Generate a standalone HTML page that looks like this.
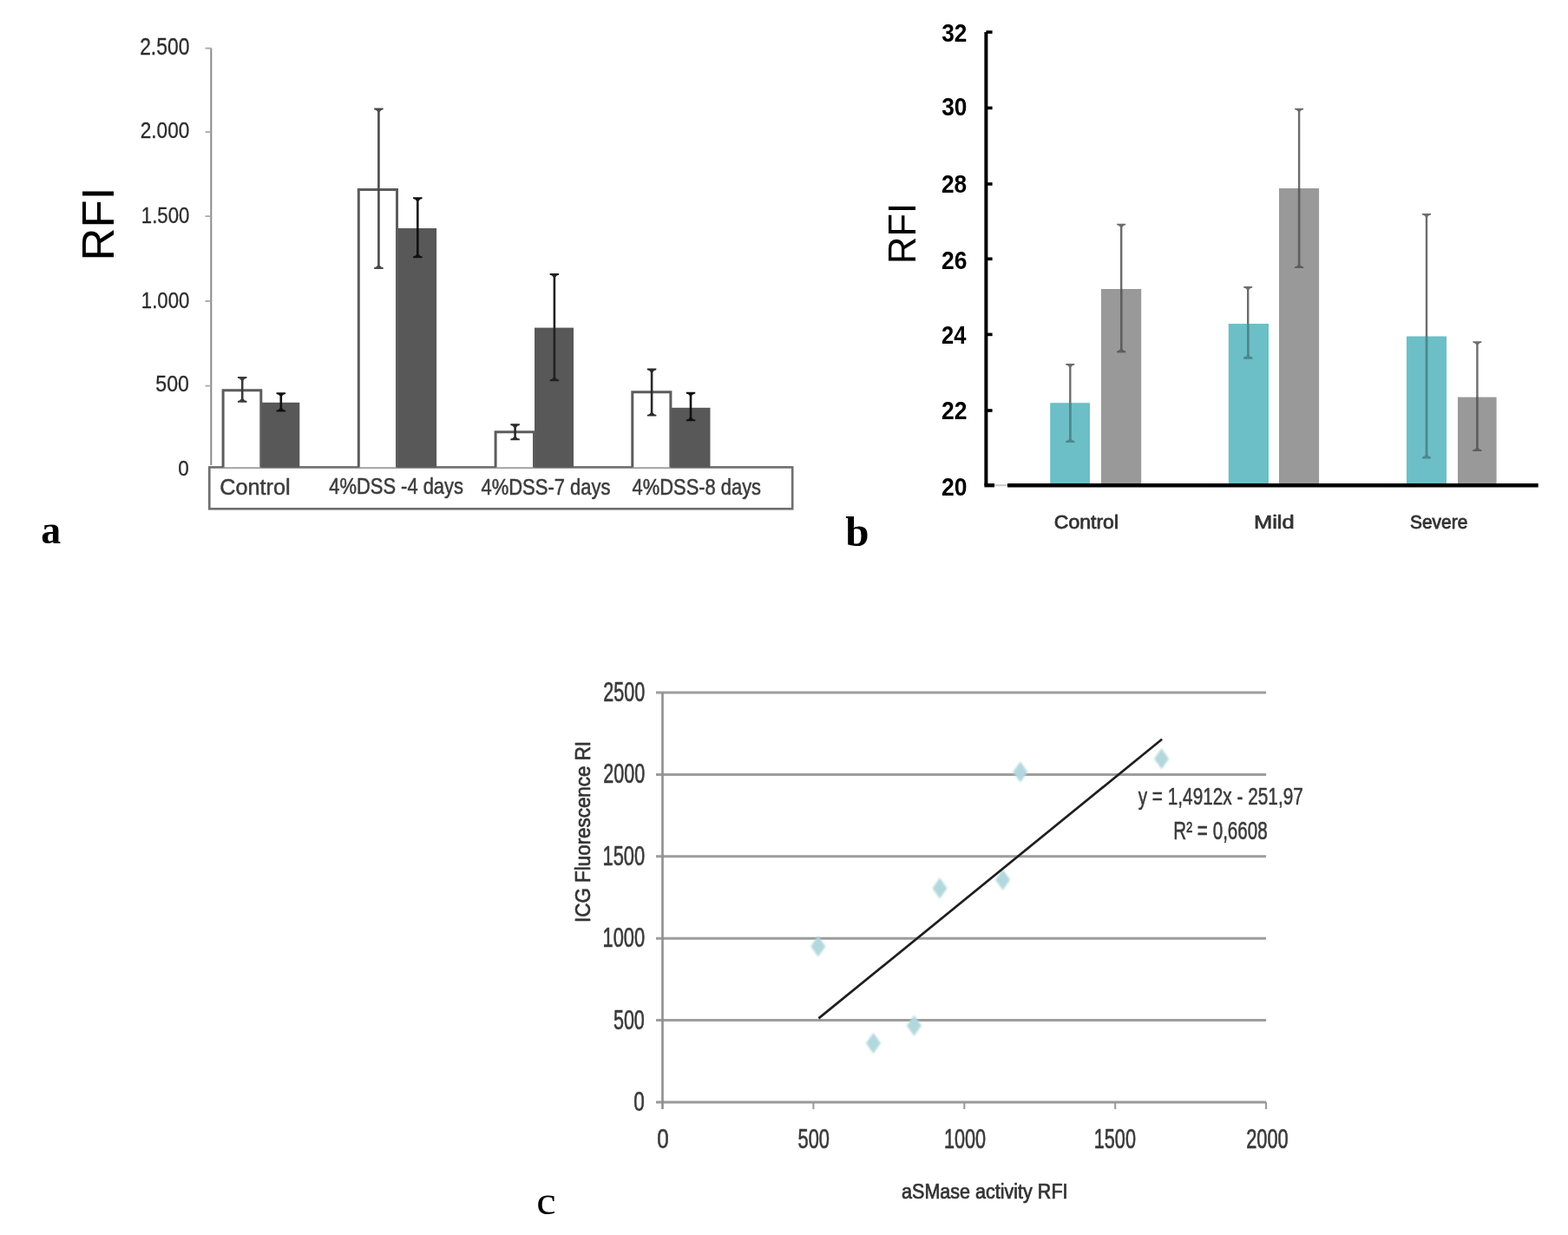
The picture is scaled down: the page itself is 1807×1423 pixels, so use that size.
<!DOCTYPE html>
<html><head><meta charset="utf-8"><title>Figure</title>
<style>html,body{margin:0;padding:0;background:#fff;}svg{display:block;}</style>
</head><body>
<svg width="1807" height="1423" viewBox="0 0 1807 1423">
<rect x="0" y="0" width="1807" height="1423" fill="#fff"/>
<line x1='243.3' y1='55.6' x2='243.3' y2='536' stroke='#8a8a8a' stroke-width='2' />
<line x1='236.5' y1='55.6' x2='243.3' y2='55.6' stroke='#a8a8a8' stroke-width='1.8' />
<line x1='236.5' y1='152.2' x2='243.3' y2='152.2' stroke='#a8a8a8' stroke-width='1.8' />
<line x1='236.5' y1='249.2' x2='243.3' y2='249.2' stroke='#a8a8a8' stroke-width='1.8' />
<line x1='236.5' y1='347.0' x2='243.3' y2='347.0' stroke='#a8a8a8' stroke-width='1.8' />
<line x1='236.5' y1='444.6' x2='243.3' y2='444.6' stroke='#a8a8a8' stroke-width='1.8' />
<rect x='241.3' y='538.4' width='671.9000000000001' height='47.89999999999998' fill='#fff' stroke='#6e6e6e' stroke-width='2.6'/>
<rect x='301.30' y='463.80' width='44.00' height='74.60' fill='#585858' />
<path d='M257.1 538.4 V449.8 H300.8 V538.4' fill='#fff' stroke='#5c5c5c' stroke-width='3'/>
<rect x='458.00' y='263.00' width='45.10' height='275.40' fill='#585858' />
<path d='M413.3 538.4 V218.4 H457.5 V538.4' fill='#fff' stroke='#5c5c5c' stroke-width='3'/>
<rect x='616.00' y='377.60' width='45.00' height='160.80' fill='#585858' />
<path d='M571.1 538.4 V497.8 H615.5 V538.4' fill='#fff' stroke='#5c5c5c' stroke-width='3'/>
<rect x='773.40' y='469.80' width='45.10' height='68.60' fill='#585858' />
<path d='M728.8 538.4 V451.8 H772.9 V538.4' fill='#fff' stroke='#5c5c5c' stroke-width='3'/>
<line x1='279.2' y1='435.4' x2='279.2' y2='462.4' stroke='#3a3a3a' stroke-width='2.6' />
<path d='M273.95 434.10 H284.45 V435.79 Q281.56 436.18 280.50 438.26 H277.90 Q276.84 436.18 273.95 435.79 Z' fill='#3a3a3a'/>
<path d='M273.95 463.70 H284.45 V462.01 Q281.56 461.62 280.50 459.54 H277.90 Q276.84 461.62 273.95 462.01 Z' fill='#3a3a3a'/>
<line x1='323.8' y1='453.5' x2='323.8' y2='473.1' stroke='#111' stroke-width='2.6' />
<path d='M318.55 452.20 H329.05 V453.89 Q326.16 454.28 325.10 456.36 H322.50 Q321.44 454.28 318.55 453.89 Z' fill='#111'/>
<path d='M318.55 474.40 H329.05 V472.71 Q326.16 472.32 325.10 470.24 H322.50 Q321.44 472.32 318.55 472.71 Z' fill='#111'/>
<line x1='436.4' y1='125.8' x2='436.4' y2='308.6' stroke='#4a4a4a' stroke-width='2.6' />
<path d='M431.15 124.50 H441.65 V126.19 Q438.76 126.58 437.70 128.66 H435.10 Q434.04 126.58 431.15 126.19 Z' fill='#4a4a4a'/>
<path d='M431.15 309.90 H441.65 V308.21 Q438.76 307.82 437.70 305.74 H435.10 Q434.04 307.82 431.15 308.21 Z' fill='#4a4a4a'/>
<line x1='481.3' y1='228.6' x2='481.3' y2='295.9' stroke='#111' stroke-width='2.6' />
<path d='M476.05 227.30 H486.55 V228.99 Q483.66 229.38 482.60 231.46 H480.00 Q478.94 229.38 476.05 228.99 Z' fill='#111'/>
<path d='M476.05 297.20 H486.55 V295.51 Q483.66 295.12 482.60 293.04 H480.00 Q478.94 295.12 476.05 295.51 Z' fill='#111'/>
<line x1='593.6' y1='489.6' x2='593.6' y2='506.0' stroke='#2a2a2a' stroke-width='2.6' />
<path d='M588.35 488.30 H598.85 V489.99 Q595.96 490.38 594.90 492.46 H592.30 Q591.24 490.38 588.35 489.99 Z' fill='#2a2a2a'/>
<path d='M588.35 507.30 H598.85 V505.61 Q595.96 505.22 594.90 503.14 H592.30 Q591.24 505.22 588.35 505.61 Z' fill='#2a2a2a'/>
<line x1='638.9' y1='316.4' x2='638.9' y2='437.9' stroke='#222' stroke-width='2.6' />
<path d='M633.65 315.10 H644.15 V316.79 Q641.26 317.18 640.20 319.26 H637.60 Q636.54 317.18 633.65 316.79 Z' fill='#222'/>
<path d='M633.65 439.20 H644.15 V437.51 Q641.26 437.12 640.20 435.04 H637.60 Q636.54 437.12 633.65 437.51 Z' fill='#222'/>
<line x1='751.1' y1='425.8' x2='751.1' y2='478.3' stroke='#2a2a2a' stroke-width='2.6' />
<path d='M745.85 424.50 H756.35 V426.19 Q753.46 426.58 752.40 428.66 H749.80 Q748.74 426.58 745.85 426.19 Z' fill='#2a2a2a'/>
<path d='M745.85 479.60 H756.35 V477.91 Q753.46 477.52 752.40 475.44 H749.80 Q748.74 477.52 745.85 477.91 Z' fill='#2a2a2a'/>
<line x1='796.0' y1='453.0' x2='796.0' y2='484.0' stroke='#111' stroke-width='2.6' />
<path d='M790.75 451.70 H801.25 V453.39 Q798.36 453.78 797.30 455.86 H794.70 Q793.64 453.78 790.75 453.39 Z' fill='#111'/>
<path d='M790.75 485.30 H801.25 V483.61 Q798.36 483.22 797.30 481.14 H794.70 Q793.64 483.22 790.75 483.61 Z' fill='#111'/>
<rect x='1210.20' y='464.20' width='45.80' height='94.80' fill='#6cbfc6' />
<rect x='1269.00' y='333.00' width='46.20' height='226.00' fill='#999999' />
<rect x='1415.80' y='373.00' width='46.20' height='186.00' fill='#6cbfc6' />
<rect x='1474.00' y='217.00' width='46.10' height='342.00' fill='#999999' />
<rect x='1620.90' y='387.50' width='46.10' height='171.50' fill='#6cbfc6' />
<rect x='1680.00' y='457.60' width='44.60' height='101.40' fill='#999999' />
<line x1='1233.3' y1='420.2' x2='1233.3' y2='508.6' stroke='#6c6c6c' stroke-width='2.4' />
<path d='M1228.30 419.00 H1238.30 V420.56 Q1235.55 420.92 1234.50 422.84 H1232.10 Q1231.05 420.92 1228.30 420.56 Z' fill='#6c6c6c'/>
<path d='M1228.30 509.80 H1238.30 V508.24 Q1235.55 507.88 1234.50 505.96 H1232.10 Q1231.05 507.88 1228.30 508.24 Z' fill='#6c6c6c'/>
<line x1='1233.3' y1='464.2' x2='1233.3' y2='508.6' stroke='#4a8a8e' stroke-width='2.4' />
<path d='M1228.30 509.80 H1238.30 V508.24 Q1235.55 507.88 1234.50 505.96 H1232.10 Q1231.05 507.88 1228.30 508.24 Z' fill='#4a8a8e'/>
<line x1='1292.2' y1='259.0' x2='1292.2' y2='405.0' stroke='#6c6c6c' stroke-width='2.4' />
<path d='M1287.20 257.80 H1297.20 V259.36 Q1294.45 259.72 1293.40 261.64 H1291.00 Q1289.95 259.72 1287.20 259.36 Z' fill='#6c6c6c'/>
<path d='M1287.20 406.20 H1297.20 V404.64 Q1294.45 404.28 1293.40 402.36 H1291.00 Q1289.95 404.28 1287.20 404.64 Z' fill='#6c6c6c'/>
<line x1='1292.2' y1='333.0' x2='1292.2' y2='405.0' stroke='#5e5e5e' stroke-width='2.4' />
<path d='M1287.20 406.20 H1297.20 V404.64 Q1294.45 404.28 1293.40 402.36 H1291.00 Q1289.95 404.28 1287.20 404.64 Z' fill='#5e5e5e'/>
<line x1='1438.2' y1='331.2' x2='1438.2' y2='412.2' stroke='#6c6c6c' stroke-width='2.4' />
<path d='M1433.20 330.00 H1443.20 V331.56 Q1440.45 331.92 1439.40 333.84 H1437.00 Q1435.95 331.92 1433.20 331.56 Z' fill='#6c6c6c'/>
<path d='M1433.20 413.40 H1443.20 V411.84 Q1440.45 411.48 1439.40 409.56 H1437.00 Q1435.95 411.48 1433.20 411.84 Z' fill='#6c6c6c'/>
<line x1='1438.2' y1='373.0' x2='1438.2' y2='412.2' stroke='#4a8a8e' stroke-width='2.4' />
<path d='M1433.20 413.40 H1443.20 V411.84 Q1440.45 411.48 1439.40 409.56 H1437.00 Q1435.95 411.48 1433.20 411.84 Z' fill='#4a8a8e'/>
<line x1='1497.1' y1='125.9' x2='1497.1' y2='307.8' stroke='#6c6c6c' stroke-width='2.4' />
<path d='M1492.10 124.70 H1502.10 V126.26 Q1499.35 126.62 1498.30 128.54 H1495.90 Q1494.85 126.62 1492.10 126.26 Z' fill='#6c6c6c'/>
<path d='M1492.10 309.00 H1502.10 V307.44 Q1499.35 307.08 1498.30 305.16 H1495.90 Q1494.85 307.08 1492.10 307.44 Z' fill='#6c6c6c'/>
<line x1='1497.1' y1='217.0' x2='1497.1' y2='307.8' stroke='#5e5e5e' stroke-width='2.4' />
<path d='M1492.10 309.00 H1502.10 V307.44 Q1499.35 307.08 1498.30 305.16 H1495.90 Q1494.85 307.08 1492.10 307.44 Z' fill='#5e5e5e'/>
<line x1='1644.0' y1='247.1' x2='1644.0' y2='527.1' stroke='#6c6c6c' stroke-width='2.4' />
<path d='M1639.00 245.90 H1649.00 V247.46 Q1646.25 247.82 1645.20 249.74 H1642.80 Q1641.75 247.82 1639.00 247.46 Z' fill='#6c6c6c'/>
<path d='M1639.00 528.30 H1649.00 V526.74 Q1646.25 526.38 1645.20 524.46 H1642.80 Q1641.75 526.38 1639.00 526.74 Z' fill='#6c6c6c'/>
<line x1='1644.0' y1='387.5' x2='1644.0' y2='527.1' stroke='#4a8a8e' stroke-width='2.4' />
<path d='M1639.00 528.30 H1649.00 V526.74 Q1646.25 526.38 1645.20 524.46 H1642.80 Q1641.75 526.38 1639.00 526.74 Z' fill='#4a8a8e'/>
<line x1='1702.4' y1='394.4' x2='1702.4' y2='518.9' stroke='#6c6c6c' stroke-width='2.4' />
<path d='M1697.40 393.20 H1707.40 V394.76 Q1704.65 395.12 1703.60 397.04 H1701.20 Q1700.15 395.12 1697.40 394.76 Z' fill='#6c6c6c'/>
<path d='M1697.40 520.10 H1707.40 V518.54 Q1704.65 518.18 1703.60 516.26 H1701.20 Q1700.15 518.18 1697.40 518.54 Z' fill='#6c6c6c'/>
<line x1='1702.4' y1='457.6' x2='1702.4' y2='518.9' stroke='#5e5e5e' stroke-width='2.4' />
<path d='M1697.40 520.10 H1707.40 V518.54 Q1704.65 518.18 1703.60 516.26 H1701.20 Q1700.15 518.18 1697.40 518.54 Z' fill='#5e5e5e'/>
<line x1='1136.4' y1='37' x2='1136.4' y2='559.2' stroke='#000' stroke-width='4' />
<line x1='1136.4' y1='37.0' x2='1143.6' y2='37.0' stroke='#000' stroke-width='3.6' />
<line x1='1136.4' y1='124.4' x2='1143.6' y2='124.4' stroke='#000' stroke-width='3.6' />
<line x1='1136.4' y1='212.0' x2='1143.6' y2='212.0' stroke='#000' stroke-width='3.6' />
<line x1='1136.4' y1='298.3' x2='1143.6' y2='298.3' stroke='#000' stroke-width='3.6' />
<line x1='1136.4' y1='385.4' x2='1143.6' y2='385.4' stroke='#000' stroke-width='3.6' />
<line x1='1136.4' y1='473.0' x2='1143.6' y2='473.0' stroke='#000' stroke-width='3.6' />
<line x1='1146' y1='559.2' x2='1161' y2='559.2' stroke='#c8c8c8' stroke-width='2' />
<line x1='1134.4' y1='559.2' x2='1146' y2='559.2' stroke='#000' stroke-width='4.4' />
<line x1='1161' y1='559.2' x2='1772.7' y2='559.2' stroke='#000' stroke-width='4.6' />
<line x1='756.0' y1='1175.6' x2='1459.1' y2='1175.6' stroke='#9d9d9d' stroke-width='3' />
<line x1='756.0' y1='1081.2' x2='1459.1' y2='1081.2' stroke='#9d9d9d' stroke-width='3' />
<line x1='756.0' y1='986.8' x2='1459.1' y2='986.8' stroke='#9d9d9d' stroke-width='3' />
<line x1='756.0' y1='892.4000000000001' x2='1459.1' y2='892.4000000000001' stroke='#9d9d9d' stroke-width='3' />
<line x1='756.0' y1='798.0' x2='1459.1' y2='798.0' stroke='#9d9d9d' stroke-width='3' />
<line x1='756.0' y1='1270.0' x2='1459.1' y2='1270.0' stroke='#999' stroke-width='3' />
<line x1='763.5' y1='798.0' x2='763.5' y2='1278.0' stroke='#8f8f8f' stroke-width='2.6' />
<line x1='937.4' y1='1270' x2='937.4' y2='1278' stroke='#999' stroke-width='2' />
<line x1='1111.3' y1='1270' x2='1111.3' y2='1278' stroke='#999' stroke-width='2' />
<line x1='1285.2' y1='1270' x2='1285.2' y2='1278' stroke='#999' stroke-width='2' />
<line x1='1459.1' y1='1270' x2='1459.1' y2='1278' stroke='#999' stroke-width='2' />
<defs><filter id='sb' x='-50%' y='-50%' width='200%' height='200%'><feGaussianBlur stdDeviation='1.3'/></filter></defs>
<g filter='url(#sb)'>
<path d='M942.8 1078.6 L951.3 1090.6 L942.8 1102.6 L934.3 1090.6 Z' fill='#b2d8dd'/>
<path d='M1006.5 1190.0 L1015.0 1202.0 L1006.5 1214.0 L998.0 1202.0 Z' fill='#b2d8dd'/>
<path d='M1053.4 1169.7 L1061.9 1181.7 L1053.4 1193.7 L1044.9 1181.7 Z' fill='#b2d8dd'/>
<path d='M1083.0 1011.5 L1091.5 1023.5 L1083.0 1035.5 L1074.5 1023.5 Z' fill='#b2d8dd'/>
<path d='M1155.6 1001.7 L1164.1 1013.7 L1155.6 1025.7 L1147.1 1013.7 Z' fill='#b2d8dd'/>
<path d='M1175.8 877.4 L1184.3 889.4 L1175.8 901.4 L1167.3 889.4 Z' fill='#b2d8dd'/>
<path d='M1338.6 862.2 L1347.1 874.2 L1338.6 886.2 L1330.1 874.2 Z' fill='#b2d8dd'/>
</g>
<line x1='943.4' y1='1173.4' x2='1339.1' y2='851.8' stroke='#1e1e1e' stroke-width='2.7' />
<text transform='translate(161.16 63.20) scale(0.8468 1)' font-family='Liberation Sans, Arial, sans-serif' font-weight='normal' font-size='27.00' fill='#2c2c2c'  stroke='#2c2c2c' stroke-width='0.3' stroke-linejoin='round' vector-effect='non-scaling-stroke'>2.500</text>
<text transform='translate(161.67 159.30) scale(0.8714 1)' font-family='Liberation Sans, Arial, sans-serif' font-weight='normal' font-size='26.00' fill='#2c2c2c'  stroke='#2c2c2c' stroke-width='0.3' stroke-linejoin='round' vector-effect='non-scaling-stroke'>2.000</text>
<text transform='translate(162.83 256.50) scale(0.8486 1)' font-family='Liberation Sans, Arial, sans-serif' font-weight='normal' font-size='26.14' fill='#2c2c2c'  stroke='#2c2c2c' stroke-width='0.3' stroke-linejoin='round' vector-effect='non-scaling-stroke'>1.500</text>
<text transform='translate(162.83 354.70) scale(0.8486 1)' font-family='Liberation Sans, Arial, sans-serif' font-weight='normal' font-size='26.14' fill='#2c2c2c'  stroke='#2c2c2c' stroke-width='0.3' stroke-linejoin='round' vector-effect='non-scaling-stroke'>1.000</text>
<text transform='translate(179.27 451.00) scale(0.8902 1)' font-family='Liberation Sans, Arial, sans-serif' font-weight='normal' font-size='26.00' fill='#2c2c2c'  stroke='#2c2c2c' stroke-width='0.3' stroke-linejoin='round' vector-effect='non-scaling-stroke'>500</text>
<text transform='translate(205.30 548.40) scale(0.9104 1)' font-family='Liberation Sans, Arial, sans-serif' font-weight='normal' font-size='24.71' fill='#2c2c2c'  stroke='#2c2c2c' stroke-width='0.3' stroke-linejoin='round' vector-effect='non-scaling-stroke'>0</text>
<text transform='translate(131.40 300.41) rotate(-90) scale(0.9993 1)' font-family='Liberation Sans, Arial, sans-serif' font-weight='normal' font-size='52.61' fill='#000' >RFI</text>
<text transform='translate(253.24 569.90) scale(1.0014 1)' font-family='Liberation Sans, Arial, sans-serif' font-weight='normal' font-size='25.21' fill='#3c3c3c'  stroke='#3c3c3c' stroke-width='0.5' stroke-linejoin='round' vector-effect='non-scaling-stroke'>Control</text>
<text transform='translate(379.26 569.30) scale(0.8515 1)' font-family='Liberation Sans, Arial, sans-serif' font-weight='normal' font-size='25.75' fill='#3c3c3c'  stroke='#3c3c3c' stroke-width='0.5' stroke-linejoin='round' vector-effect='non-scaling-stroke'>4%DSS -4 days</text>
<text transform='translate(554.46 569.80) scale(0.8450 1)' font-family='Liberation Sans, Arial, sans-serif' font-weight='normal' font-size='26.03' fill='#3c3c3c'  stroke='#3c3c3c' stroke-width='0.5' stroke-linejoin='round' vector-effect='non-scaling-stroke'>4%DSS-7 days</text>
<text transform='translate(728.56 569.60) scale(0.8511 1)' font-family='Liberation Sans, Arial, sans-serif' font-weight='normal' font-size='25.75' fill='#3c3c3c'  stroke='#3c3c3c' stroke-width='0.5' stroke-linejoin='round' vector-effect='non-scaling-stroke'>4%DSS-8 days</text>
<text transform='translate(47.33 626.20) scale(0.9824 1)' font-family='Liberation Serif, Times New Roman, serif' font-weight='bold' font-size='46.60' fill='#000' >a</text>
<text transform='translate(1084.90 570.75) scale(0.8846 1)' font-family='Liberation Sans, Arial, sans-serif' font-weight='bold' font-size='30.00' fill='#000' >20</text>
<text transform='translate(1084.90 482.65) scale(0.8846 1)' font-family='Liberation Sans, Arial, sans-serif' font-weight='bold' font-size='30.00' fill='#000' >22</text>
<text transform='translate(1084.93 395.90) scale(0.8519 1)' font-family='Liberation Sans, Arial, sans-serif' font-weight='bold' font-size='30.00' fill='#000' >24</text>
<text transform='translate(1084.90 309.80) scale(0.8846 1)' font-family='Liberation Sans, Arial, sans-serif' font-weight='bold' font-size='30.00' fill='#000' >26</text>
<text transform='translate(1084.91 221.70) scale(0.8762 1)' font-family='Liberation Sans, Arial, sans-serif' font-weight='bold' font-size='30.00' fill='#000' >28</text>
<text transform='translate(1085.17 133.15) scale(0.8762 1)' font-family='Liberation Sans, Arial, sans-serif' font-weight='bold' font-size='30.00' fill='#000' >30</text>
<text transform='translate(1085.17 48.20) scale(0.8762 1)' font-family='Liberation Sans, Arial, sans-serif' font-weight='bold' font-size='30.00' fill='#000' >32</text>
<text transform='translate(1055.00 303.98) rotate(-90) scale(0.9803 1)' font-family='Liberation Sans, Arial, sans-serif' font-weight='normal' font-size='44.35' fill='#000' >RFI</text>
<text transform='translate(1214.75 608.60) scale(1.0325 1)' font-family='Liberation Sans, Arial, sans-serif' font-weight='normal' font-size='22.33' fill='#333'  stroke='#333' stroke-width='0.8' stroke-linejoin='round' vector-effect='non-scaling-stroke'>Control</text>
<text transform='translate(1444.96 608.70) scale(1.1422 1)' font-family='Liberation Sans, Arial, sans-serif' font-weight='normal' font-size='22.33' fill='#333'  stroke='#333' stroke-width='0.8' stroke-linejoin='round' vector-effect='non-scaling-stroke'>Mild</text>
<text transform='translate(1624.95 608.70) scale(0.9338 1)' font-family='Liberation Sans, Arial, sans-serif' font-weight='normal' font-size='22.43' fill='#333'  stroke='#333' stroke-width='0.8' stroke-linejoin='round' vector-effect='non-scaling-stroke'>Severe</text>
<text transform='translate(974.31 629.20) scale(1.0097 1)' font-family='Liberation Serif, Times New Roman, serif' font-weight='bold' font-size='48.55' fill='#000' >b</text>
<text transform='translate(695.22 808.00) scale(0.6795 1)' font-family='Liberation Sans, Arial, sans-serif' font-weight='normal' font-size='31.71' fill='#3a3a3a'  stroke='#3a3a3a' stroke-width='0.6' stroke-linejoin='round' vector-effect='non-scaling-stroke'>2500</text>
<text transform='translate(695.22 902.40) scale(0.6795 1)' font-family='Liberation Sans, Arial, sans-serif' font-weight='normal' font-size='31.71' fill='#3a3a3a'  stroke='#3a3a3a' stroke-width='0.6' stroke-linejoin='round' vector-effect='non-scaling-stroke'>2000</text>
<text transform='translate(694.55 996.80) scale(0.6892 1)' font-family='Liberation Sans, Arial, sans-serif' font-weight='normal' font-size='31.71' fill='#3a3a3a'  stroke='#3a3a3a' stroke-width='0.6' stroke-linejoin='round' vector-effect='non-scaling-stroke'>1500</text>
<text transform='translate(694.55 1091.20) scale(0.6892 1)' font-family='Liberation Sans, Arial, sans-serif' font-weight='normal' font-size='31.71' fill='#3a3a3a'  stroke='#3a3a3a' stroke-width='0.6' stroke-linejoin='round' vector-effect='non-scaling-stroke'>1000</text>
<text transform='translate(706.94 1185.60) scale(0.6782 1)' font-family='Liberation Sans, Arial, sans-serif' font-weight='normal' font-size='31.71' fill='#3a3a3a'  stroke='#3a3a3a' stroke-width='0.6' stroke-linejoin='round' vector-effect='non-scaling-stroke'>500</text>
<text transform='translate(730.30 1280.20) scale(0.7360 1)' font-family='Liberation Sans, Arial, sans-serif' font-weight='normal' font-size='30.57' fill='#3a3a3a'  stroke='#3a3a3a' stroke-width='0.6' stroke-linejoin='round' vector-effect='non-scaling-stroke'>0</text>
<text transform='translate(757.33 1322.90) scale(0.7868 1)' font-family='Liberation Sans, Arial, sans-serif' font-weight='normal' font-size='30.71' fill='#3a3a3a'  stroke='#3a3a3a' stroke-width='0.6' stroke-linejoin='round' vector-effect='non-scaling-stroke'>0</text>
<text transform='translate(919.52 1322.90) scale(0.7126 1)' font-family='Liberation Sans, Arial, sans-serif' font-weight='normal' font-size='30.71' fill='#3a3a3a'  stroke='#3a3a3a' stroke-width='0.6' stroke-linejoin='round' vector-effect='non-scaling-stroke'>500</text>
<text transform='translate(1087.97 1322.90) scale(0.7054 1)' font-family='Liberation Sans, Arial, sans-serif' font-weight='normal' font-size='30.71' fill='#3a3a3a'  stroke='#3a3a3a' stroke-width='0.6' stroke-linejoin='round' vector-effect='non-scaling-stroke'>1000</text>
<text transform='translate(1260.77 1322.90) scale(0.7054 1)' font-family='Liberation Sans, Arial, sans-serif' font-weight='normal' font-size='30.71' fill='#3a3a3a'  stroke='#3a3a3a' stroke-width='0.6' stroke-linejoin='round' vector-effect='non-scaling-stroke'>1500</text>
<text transform='translate(1436.21 1323.00) scale(0.6963 1)' font-family='Liberation Sans, Arial, sans-serif' font-weight='normal' font-size='31.29' fill='#3a3a3a'  stroke='#3a3a3a' stroke-width='0.6' stroke-linejoin='round' vector-effect='non-scaling-stroke'>2000</text>
<text transform='translate(679.60 1062.92) rotate(-90) scale(0.9236 1)' font-family='Liberation Sans, Arial, sans-serif' font-weight='normal' font-size='24.25' fill='#333'  stroke='#333' stroke-width='0.7' stroke-linejoin='round' vector-effect='non-scaling-stroke'>ICG Fluorescence RI</text>
<text transform='translate(1039.04 1380.80) scale(0.9365 1)' font-family='Liberation Sans, Arial, sans-serif' font-weight='normal' font-size='23.01' fill='#333'  stroke='#333' stroke-width='0.7' stroke-linejoin='round' vector-effect='non-scaling-stroke'>aSMase activity RFI</text>
<text transform='translate(1311.70 927.00) scale(0.7317 1)' font-family='Liberation Sans, Arial, sans-serif' font-weight='normal' font-size='28.43' fill='#3a3a3a'  stroke='#3a3a3a' stroke-width='0.5' stroke-linejoin='round' vector-effect='non-scaling-stroke'>y = 1,4912x - 251,97</text>
<text transform='translate(1352.35 966.90) scale(0.7083 1)' font-family='Liberation Sans, Arial, sans-serif' font-weight='normal' font-size='29.14' fill='#3a3a3a'  stroke='#3a3a3a' stroke-width='0.5' stroke-linejoin='round' vector-effect='non-scaling-stroke'>R² = 0,6608</text>
<text transform='translate(618.18 1398.70) scale(1.0748 1)' font-family='Liberation Serif, Times New Roman, serif' font-weight='normal' font-size='47.02' fill='#000' >c</text>
</svg>
</body></html>
